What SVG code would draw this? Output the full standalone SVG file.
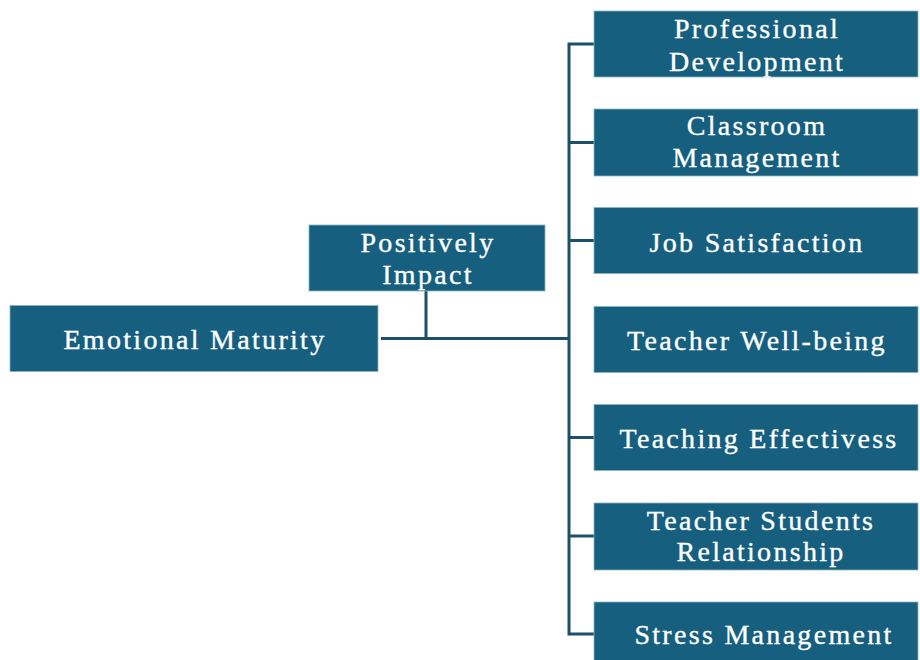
<svg xmlns="http://www.w3.org/2000/svg" width="920" height="660" viewBox="0 0 920 660">
  <style>
    .box { fill: #175f7f; stroke: #8fb3c4; stroke-width: 0.8; }
    .lbl { fill: #ffffff; stroke: #ffffff; stroke-width: 0.35; font-family: "Liberation Serif", "Times New Roman", serif; font-size: 28px; letter-spacing: 2.3px; text-anchor: middle; }
    .conn { stroke: #1c4f68; stroke-width: 3; fill: none; }
  </style>
  <rect width="920" height="660" fill="#ffffff"/>

  <g id="connectors">
    <!-- trunk from the root to the branch spine -->
    <path class="conn" d="M381,338.5 H569"/>
    <!-- label box joined to the trunk -->
    <path class="conn" d="M426,291 V338.5"/>
    <!-- spine with ticks to each outcome -->
    <path class="conn" d="M594,44 H569 V634 H594"/>
    <path class="conn" d="M569,142.5 H594"/>
    <path class="conn" d="M569,240.5 H594"/>
    <path class="conn" d="M569,437.5 H594"/>
    <path class="conn" d="M569,536 H594"/>
  </g>

  <g id="emotional-maturity">
    <rect class="box" x="10" y="305.5" width="368" height="66"/>
    <text class="lbl" x="195" y="349">Emotional Maturity</text>
  </g>

  <g id="positively-impact">
    <rect class="box" x="309" y="225" width="236" height="66"/>
    <text class="lbl" x="428" y="251.5">Positively</text>
    <text class="lbl" x="428" y="284">Impact</text>
  </g>

  <g id="professional-development">
    <rect class="box" x="594" y="11" width="324" height="66"/>
    <text class="lbl" x="757" y="37.5">Professional</text>
    <text class="lbl" x="757" y="70.5">Development</text>
  </g>

  <g id="classroom-management">
    <rect class="box" x="594" y="109" width="324" height="67"/>
    <text class="lbl" x="757" y="135">Classroom</text>
    <text class="lbl" x="757" y="167">Management</text>
  </g>

  <g id="job-satisfaction">
    <rect class="box" x="594" y="207.5" width="324" height="66"/>
    <text class="lbl" x="757" y="251.5">Job Satisfaction</text>
  </g>

  <g id="teacher-well-being">
    <rect class="box" x="594" y="306.5" width="324" height="66"/>
    <text class="lbl" x="757" y="349.5">Teacher Well-being</text>
  </g>

  <g id="teaching-effectiveness">
    <rect class="box" x="594" y="404.5" width="324" height="66"/>
    <text class="lbl" x="759" y="448">Teaching Effectivess</text>
  </g>

  <g id="teacher-students-relationship">
    <rect class="box" x="594" y="503" width="324" height="67"/>
    <text class="lbl" x="761" y="529.5">Teacher Students</text>
    <text class="lbl" x="761" y="561">Relationship</text>
  </g>

  <g id="stress-management">
    <rect class="box" x="594" y="602" width="324" height="66"/>
    <text class="lbl" x="764" y="644">Stress Management</text>
  </g>
</svg>
